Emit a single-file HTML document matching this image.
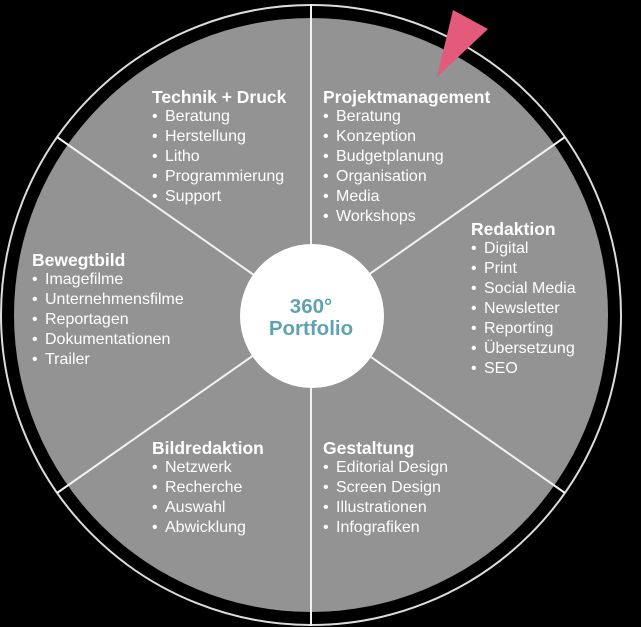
<!DOCTYPE html>
<html><head><meta charset="utf-8"><style>
html,body{margin:0;padding:0;background:#000;}
body{width:641px;height:627px;overflow:hidden;position:relative;font-family:"Liberation Sans",Arial,sans-serif;}
.b{position:absolute;color:#fff;font-size:16px;line-height:20px;}
.b h{display:block;font-weight:bold;font-size:17.5px;}
.b div{padding-left:13px;position:relative;}
.b div:before{content:"•";position:absolute;left:0;}
</style></head><body>
<svg width="641" height="627" style="position:absolute;left:0;top:0">
<circle cx="311" cy="315" r="310" fill="none" stroke="#dcdcdc" stroke-width="2"/>
<circle cx="311" cy="315" r="297" fill="#939393"/>
<g stroke="#f2f2f2" stroke-width="2">
<line x1="311" y1="315" x2="311" y2="4"/>
<line x1="311" y1="315" x2="311" y2="626"/>
<line x1="311" y1="315" x2="565" y2="137"/>
<line x1="311" y1="315" x2="57" y2="137"/>
<line x1="311" y1="315" x2="565" y2="493"/>
<line x1="311" y1="315" x2="57" y2="493"/>
</g>
<circle cx="312" cy="316" r="72" fill="#fff"/>
<polygon points="453,10 488,29 437,77" fill="#e35a7a"/>
<text x="311" y="313" text-anchor="middle" font-family="Liberation Sans,Arial,sans-serif" font-weight="bold" font-size="20.5" fill="#5fa3b3">360°</text>
<text x="311" y="335" text-anchor="middle" font-family="Liberation Sans,Arial,sans-serif" font-weight="bold" font-size="20.5" fill="#5fa3b3">Portfolio</text>
</svg>
<div class="b" style="left:152px;top:87px"><h>Technik + Druck</h><div>Beratung</div><div>Herstellung</div><div>Litho</div><div>Programmierung</div><div>Support</div></div>
<div class="b" style="left:323px;top:87px"><h>Projektmanagement</h><div>Beratung</div><div>Konzeption</div><div>Budgetplanung</div><div>Organisation</div><div>Media</div><div>Workshops</div></div>
<div class="b" style="left:471px;top:219px"><h>Redaktion</h><div>Digital</div><div>Print</div><div>Social Media</div><div>Newsletter</div><div>Reporting</div><div>Übersetzung</div><div>SEO</div></div>
<div class="b" style="left:32px;top:250px"><h>Bewegtbild</h><div>Imagefilme</div><div>Unternehmensfilme</div><div>Reportagen</div><div>Dokumentationen</div><div>Trailer</div></div>
<div class="b" style="left:152px;top:438px"><h>Bildredaktion</h><div>Netzwerk</div><div>Recherche</div><div>Auswahl</div><div>Abwicklung</div></div>
<div class="b" style="left:323px;top:438px"><h>Gestaltung</h><div>Editorial Design</div><div>Screen Design</div><div>Illustrationen</div><div>Infografiken</div></div>
</body></html>
